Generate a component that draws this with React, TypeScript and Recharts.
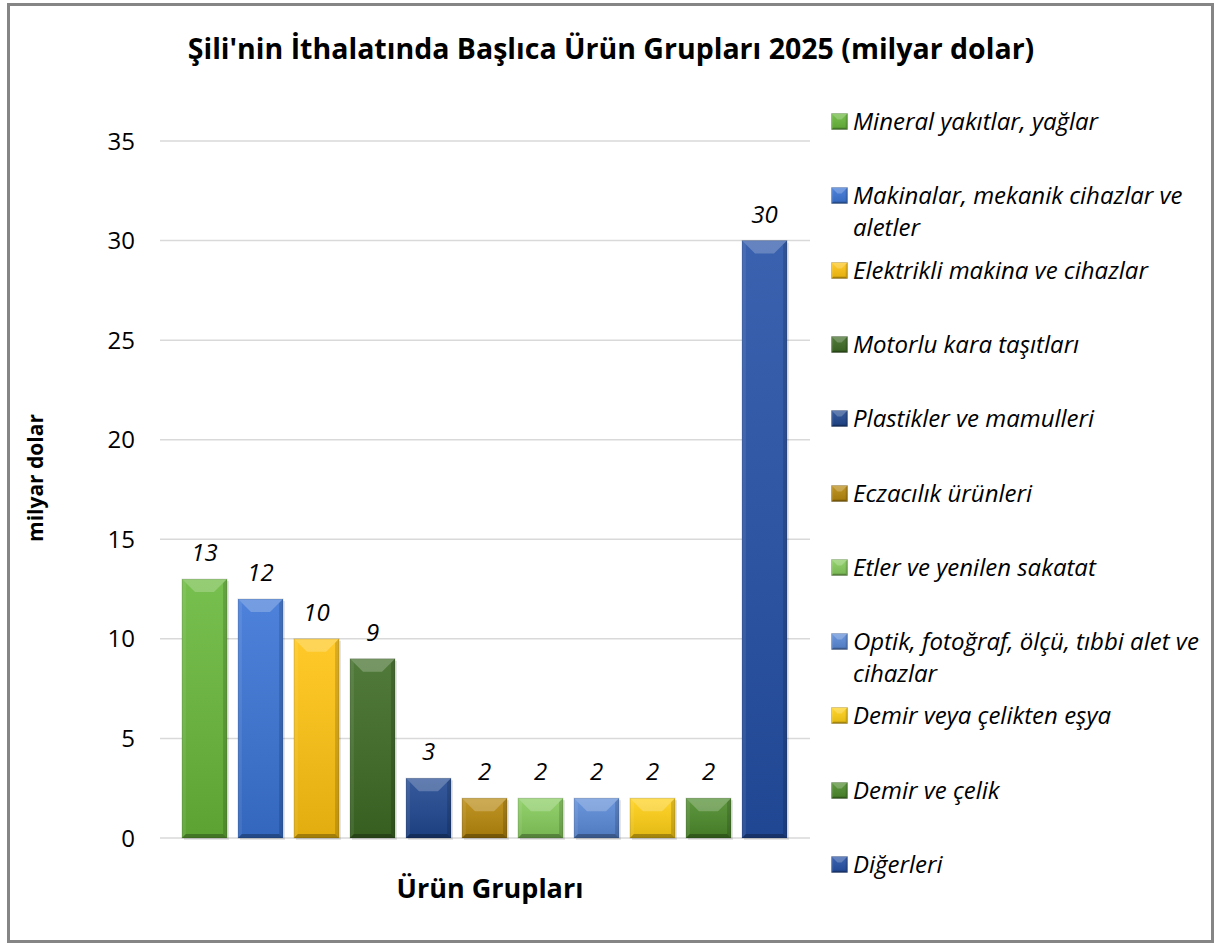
import React from 'react';
import { BarChart, Bar, XAxis, YAxis, CartesianGrid, Cell, LabelList } from 'recharts';

const title = "Şili'nin İthalatında Başlıca Ürün Grupları 2025 (milyar dolar)";
const yAxisTitle = 'milyar dolar';
const xAxisTitle = 'Ürün Grupları';

const categories = [
  'Mineral yakıtlar, yağlar',
  'Makinalar, mekanik cihazlar ve aletler',
  'Elektrikli makina ve cihazlar',
  'Motorlu kara taşıtları',
  'Plastikler ve mamulleri',
  'Eczacılık ürünleri',
  'Etler ve yenilen sakatat',
  'Optik, fotoğraf, ölçü, tıbbi alet ve cihazlar',
  'Demir veya çelikten eşya',
  'Demir ve çelik',
  'Diğerleri',
];
const values = [13, 12, 10, 9, 3, 2, 2, 2, 2, 2, 30];
const colors = [
  '#68b83a',
  '#3a74d6',
  '#ffc411',
  '#3d6b24',
  '#1f4790',
  '#b8880c',
  '#86cc5c',
  '#5a8ad8',
  '#ffd014',
  '#4c8a2a',
  '#2450a6',
];
const yTicks = [0, 5, 10, 15, 20, 25, 30, 35];

const data = categories.map((name, i) => ({ name, value: values[i] }));

const FONT = "'Open Sans', 'Noto Sans', sans-serif";

function BevelRect({ x, y, width, height, color, b, id }: any) {
  const bb = Math.min(b, height / 2, width / 2);
  const x2 = x + width;
  const y2 = y + height;
  const s = bb * 0.3;
  return (
    <g>
      <defs>
        <linearGradient id={id} x1="0" y1="0" x2="0" y2="1">
          <stop offset="0" stopColor="#ffffff" stopOpacity={0.1} />
          <stop offset="1" stopColor="#000000" stopOpacity={0.12} />
        </linearGradient>
      </defs>
      <rect x={x} y={y} width={width} height={height} fill={color} />
      <rect x={x} y={y} width={width} height={height} fill={`url(#${id})`} />
      <polygon points={`${x},${y} ${x2},${y} ${x2 - bb},${y + bb} ${x + bb},${y + bb}`} fill="#ffffff" fillOpacity={0.22} />
      <polygon points={`${x},${y} ${x + s},${y + s} ${x + s},${y2 - s} ${x},${y2}`} fill="#ffffff" fillOpacity={0.08} />
      <polygon points={`${x2},${y} ${x2 - s},${y + s} ${x2 - s},${y2 - s} ${x2},${y2}`} fill="#000000" fillOpacity={0.15} />
      <polygon points={`${x},${y2} ${x2},${y2} ${x2 - s},${y2 - s} ${x + s},${y2 - s}`} fill="#000000" fillOpacity={0.28} />
      <rect x={x} y={y} width={width} height={height} fill="none" stroke="#000000" strokeOpacity={0.15} strokeWidth={1} />
    </g>
  );
}

function BarShape(props: any) {
  const { x, y, width, height, index } = props;
  if (height <= 0) return null;
  return (
    <g>
      <rect x={x + 2} y={y + 2} width={width} height={height} fill="#000" fillOpacity={0.1} />
      <BevelRect x={x} y={y} width={width} height={height} color={colors[index]} b={13} id={`bg${index}`} />
    </g>
  );
}

function LegendMarker({ color, i }: { color: string; i: number }) {
  return (
    <svg width={17} height={17} style={{ display: 'block' }}>
      <BevelRect x={0.5} y={0.5} width={16} height={16} color={color} b={6} id={`lg${i}`} />
    </svg>
  );
}

export default function App() {
  return (
    <div style={{ position: 'absolute', left: 0, top: 0, width: 1219, height: 944, background: '#fff', fontFamily: FONT }}>
      <div
        style={{
          position: 'absolute',
          left: 7,
          top: 3,
          width: 1207,
          height: 940,
          boxSizing: 'border-box',
          border: '3px solid #858585',
        }}
      />
      <div
        style={{
          position: 'absolute',
          left: 0,
          top: 27,
          width: 1222,
          textAlign: 'center',
          fontSize: 28.5,
          fontWeight: 700,
          color: '#000',
          lineHeight: '42px',
          whiteSpace: 'nowrap',
        }}
      >
        {title}
      </div>
      <div style={{ position: 'absolute', left: 0, top: 0 }}>
        <BarChart
          width={1219}
          height={944}
          data={data}
          margin={{ top: 141, right: 409, bottom: 106, left: 100 }}
          barSize={45}
        >
          <CartesianGrid vertical={false} stroke="#d9d9d9" strokeWidth={1.5} />
          <XAxis dataKey="name" hide padding={{ left: 16, right: 18 }} />
          <YAxis
            width={60}
            domain={[0, 35]}
            ticks={yTicks}
            axisLine={false}
            tickLine={false}
            tickSize={0}
            tickMargin={25}
            tick={{ fontSize: 24, fill: '#000', fontFamily: FONT }}
            interval={0}
          />
          <Bar dataKey="value" isAnimationActive={false} shape={<BarShape />}>
            {data.map((d, i) => (
              <Cell key={d.name} fill={colors[i]} />
            ))}
            <LabelList
              dataKey="value"
              position="top"
              offset={18}
              style={{ fontSize: 24, fontStyle: 'italic', fill: '#000', fontFamily: FONT }}
            />
          </Bar>
        </BarChart>
      </div>
      <div
        style={{
          position: 'absolute',
          left: 35,
          top: 478,
          transform: 'translate(-50%, -50%) rotate(-90deg)',
          whiteSpace: 'nowrap',
          fontSize: 21,
          fontWeight: 700,
          color: '#000',
          lineHeight: '28px',
        }}
      >
        {yAxisTitle}
      </div>
      <div
        style={{
          position: 'absolute',
          left: 340,
          top: 869,
          width: 300,
          textAlign: 'center',
          fontSize: 27,
          fontWeight: 700,
          color: '#000',
          lineHeight: '38px',
        }}
      >
        {xAxisTitle}
      </div>
      {categories.map((c, i) => (
        <div
          key={c}
          style={{
            position: 'absolute',
            left: 831,
            top: 105 + i * 74.3,
            width: 380,
            display: 'flex',
            alignItems: 'flex-start',
          }}
        >
          <div style={{ marginTop: 8, width: 17, flex: '0 0 17px' }}>
            <LegendMarker color={colors[i]} i={i} />
          </div>
          <div
            style={{
              marginLeft: 5,
              width: 360,
              fontSize: 24,
              fontStyle: 'italic',
              lineHeight: '32px',
              color: '#000',
            }}
          >
            {c}
          </div>
        </div>
      ))}
    </div>
  );
}
